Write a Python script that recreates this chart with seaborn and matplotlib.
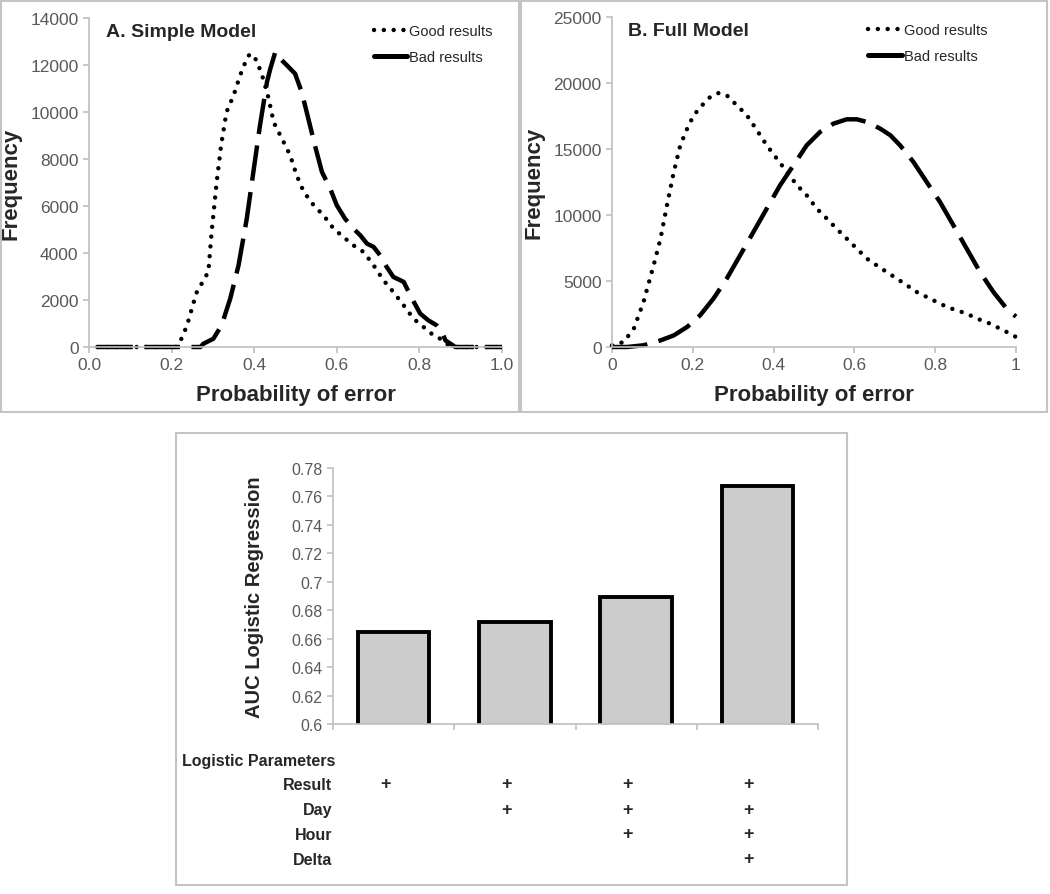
import numpy as np
import pandas as pd
import matplotlib
matplotlib.use("Agg")
import matplotlib.pyplot as plt
import matplotlib.transforms as mtransforms
from matplotlib.lines import Line2D
from matplotlib.patches import Rectangle
import seaborn as sns

# Panel A: simple model, frequency vs probability of error
a_x_good = [0.02, 0.10, 0.21, 0.22, 0.237, 0.26, 0.289, 0.297, 0.309, 0.32, 0.333, 0.35, 0.366,
            0.382, 0.39, 0.406, 0.422, 0.435, 0.447, 0.467, 0.487, 0.503, 0.52, 0.544, 0.568,
            0.592, 0.616, 0.64, 0.665, 0.689, 0.713, 0.737, 0.762, 0.786, 0.81, 0.834, 0.858,
            0.871, 0.891, 1.0]
a_good = [0, 0, 0, 200, 900, 2300, 3200, 4900, 7000, 8600, 10000, 10700, 11560, 12270, 12480,
          12200, 11400, 10570, 9570, 8870, 8160, 7300, 6600, 6030, 5600, 5040, 4680, 4330, 4040,
          3480, 2840, 2340, 1770, 1200, 850, 500, 280, 70, 0, 0]
a_x_bad = [0.02, 0.20, 0.27, 0.277, 0.301, 0.321, 0.342, 0.362, 0.382, 0.398, 0.414, 0.431,
           0.439, 0.451, 0.463, 0.479, 0.499, 0.515, 0.531, 0.547, 0.564, 0.584, 0.6, 0.62,
           0.64, 0.657, 0.673, 0.689, 0.705, 0.721, 0.737, 0.762, 0.782, 0.802, 0.822, 0.842,
           0.855, 0.863, 0.875, 0.887, 1.0]
a_bad = [0, 0, 0, 140, 350, 920, 2060, 3470, 5460, 7450, 9430, 11280, 11840, 12550, 12270,
         11990, 11630, 10850, 9720, 8580, 7450, 6740, 6030, 5460, 5040, 4750, 4400, 4260, 3900,
         3400, 2980, 2770, 2060, 1420, 1130, 920, 640, 280, 140, 0, 0]

# Panel B: full model
b_x_good = [0.0, 0.029, 0.054, 0.078, 0.103, 0.12, 0.136, 0.153, 0.169, 0.186, 0.202, 0.223,
            0.243, 0.264, 0.284, 0.309, 0.334, 0.359, 0.383, 0.408, 0.433, 0.458, 0.482, 0.507,
            0.532, 0.556, 0.581, 0.606, 0.631, 0.655, 0.68, 0.705, 0.73, 0.754, 0.779, 0.804,
            0.829, 0.853, 0.878, 0.903, 0.927, 0.952, 0.977, 1.0]
b_good = [130, 380, 1390, 3410, 6190, 8200, 10730, 13260, 15280, 16540, 17550, 18310, 18940,
          19240, 19070, 18310, 17550, 16410, 15280, 14270, 13260, 12250, 11490, 10480, 9720,
          8960, 8210, 7450, 6690, 6190, 5680, 5180, 4670, 4170, 3790, 3410, 3030, 2780, 2530,
          2150, 1890, 1520, 1140, 760]
b_x_bad = [0.0, 0.037, 0.078, 0.12, 0.153, 0.186, 0.218, 0.251, 0.284, 0.317, 0.35, 0.383,
           0.416, 0.449, 0.482, 0.515, 0.548, 0.581, 0.606, 0.631, 0.664, 0.689, 0.713, 0.746,
           0.779, 0.812, 0.845, 0.878, 0.911, 0.944, 0.977, 1.0]
b_bad = [0, 0, 130, 500, 880, 1520, 2400, 3660, 5180, 6940, 8710, 10480, 12250, 13760, 15280,
         16290, 16920, 17250, 17250, 17050, 16540, 16040, 15280, 14020, 12500, 10980, 9220,
         7450, 5680, 4170, 2900, 2300]

# Panel C: AUC per parameter set
params = ["Result", "Day", "Hour", "Delta"]
models = ["R", "R+D", "R+D+H", "R+D+H+De"]
auc = [0.665, 0.672, 0.689, 0.767]
included = [[1, 0, 0, 0], [1, 1, 0, 0], [1, 1, 1, 0], [1, 1, 1, 1]]

W, H = 1050, 895
GRAY = "#595959"
SPINE = "#bfbfbf"

sns.set_style("ticks")
plt.rcParams["font.family"] = ["Liberation Sans", "DejaVu Sans"]


def fx(px):
    return px / W


def fy(py):
    return 1 - py / H


def style_axes(ax):
    for side in ["top", "right"]:
        ax.spines[side].set_visible(False)
    for side in ["left", "bottom"]:
        ax.spines[side].set_color(SPINE)
        ax.spines[side].set_linewidth(1.2)
    ax.tick_params(colors=SPINE, labelcolor=GRAY, labelsize=12.5, length=4, width=1.2,
                   direction="out")


DOT = (0, (0.01, 2.2))
DASH = (0, (8, 2.6))


def density_panel(ax, xg, yg, xb, yb, ymax, ystep, title, xlabels, legend_x):
    sns.lineplot(x=xg, y=yg, ax=ax, color="black", linewidth=3.2, linestyle=DOT,
                 dash_capstyle="round", clip_on=False)
    sns.lineplot(x=xb, y=yb, ax=ax, color="black", linewidth=3.2, linestyle=DASH,
                 dash_capstyle="butt", clip_on=False)
    ax.set_xlim(0, 1)
    ax.set_ylim(0, ymax)
    ax.set_yticks(np.arange(0, ymax + 1, ystep))
    ax.set_xticks(np.arange(0, 1.01, 0.2))
    ax.set_xticklabels(xlabels)
    style_axes(ax)
    ax.set_xlabel("Probability of error", fontsize=16, fontweight="bold", labelpad=8)
    ax.set_ylabel("Frequency", fontsize=16, fontweight="bold", labelpad=6)
    ax.text(0.04, 0.985, title, transform=ax.transAxes, fontsize=14, fontweight="bold",
            va="top", ha="left")
    handles = [Line2D([], [], color="black", lw=3.2, linestyle=DOT, dash_capstyle="round"),
               Line2D([], [], color="black", lw=3.6)]
    ax.legend(handles, ["Good results", "Bad results"], frameon=False, fontsize=10.5,
              handlelength=2.3, handletextpad=0.15, labelspacing=0.85,
              loc="upper left", bbox_to_anchor=(legend_x, 1.0), borderaxespad=0)


fig = plt.figure(figsize=(W / 100, H / 100), dpi=100)

ax_a = fig.add_axes([fx(89), fy(348), fx(502) - fx(89), fy(19) - fy(348)])
density_panel(ax_a, a_x_good, a_good, a_x_bad, a_bad, 14000, 2000, "A. Simple Model",
              ["0.0", "0.2", "0.4", "0.6", "0.8", "1.0"], 0.675)

ax_b = fig.add_axes([fx(612), fy(348), fx(1016) - fx(612), fy(18) - fy(348)])
density_panel(ax_b, b_x_good, b_good, b_x_bad, b_bad, 25000, 5000, "B. Full Model",
              ["0", "0.2", "0.4", "0.6", "0.8", "1"], 0.62)

ax_c = fig.add_axes([fx(333), fy(725), fx(818) - fx(333), fy(469) - fy(725)])
df = pd.DataFrame({"model": models, "auc": auc})
sns.barplot(data=df, x="model", y="auc", ax=ax_c, color="#cccccc", saturation=1,
            edgecolor="black", linewidth=2.8, width=0.59)
ax_c.set_ylim(0.6, 0.78)
ax_c.set_xlim(-0.5, len(models) - 0.5)
yt = np.round(np.arange(0.6, 0.781, 0.02), 2)
ax_c.set_yticks(yt)
ax_c.set_yticklabels([f"{v:g}" for v in yt])
ax_c.set_xticks(np.arange(-0.5, len(models), 1.0))
ax_c.set_xticklabels([])
style_axes(ax_c)
ax_c.tick_params(axis="y", labelsize=11.5)
ax_c.set_xlabel("")
ax_c.set_ylabel("AUC Logistic Regression", fontsize=14.5, fontweight="bold", labelpad=20)

# parameter table under the bars
fig.text(fx(182), fy(762), "Logistic Parameters", fontsize=11.5, fontweight="bold",
         ha="left", va="center")
row_y = [786, 811, 836, 861]
trans = mtransforms.blended_transform_factory(ax_c.transData, fig.transFigure)
for r, (name, py) in enumerate(zip(params, row_y)):
    fig.text(fx(332), fy(py), name, fontsize=11.5, fontweight="bold", ha="right", va="center")
    for m in range(len(models)):
        if included[m][r]:
            fig.text(m - 0.07, fy(py - 1), "+", transform=trans, fontsize=13,
                     fontweight="bold", ha="center", va="center")

# panel frames
for x0, y0, x1, y1 in [(1, 2, 519, 413), (521, 2, 1047, 413), (176, 434, 847, 886)]:
    fig.patches.append(Rectangle((fx(x0), fy(y1)), fx(x1) - fx(x0), fy(y0) - fy(y1),
                                 transform=fig.transFigure, fill=False,
                                 edgecolor="#c4c4c4", linewidth=1.5))

fig.savefig("out.png", dpi=100)
